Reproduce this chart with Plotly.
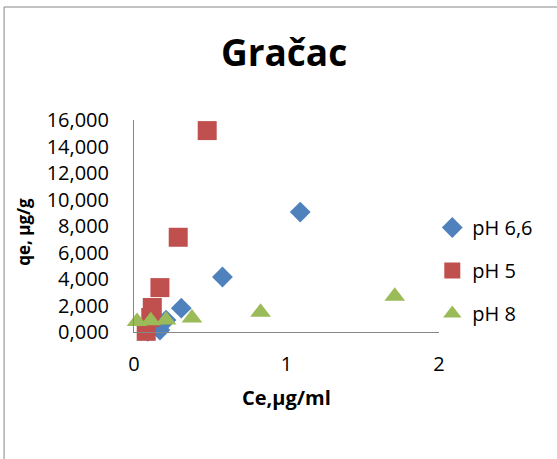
import plotly.graph_objects as go

# Data
ph66_x = [0.09, 0.17, 0.21, 0.31, 0.58, 1.09]
ph66_y = [50, 150, 900, 1800, 4150, 9050]
ph5_x = [0.08, 0.11, 0.12, 0.17, 0.29, 0.48]
ph5_y = [50, 1100, 1850, 3350, 7150, 15200]
ph8_x = [0.02, 0.11, 0.21, 0.38, 0.83, 1.71]
ph8_y = [800, 850, 900, 1050, 1500, 2700]

y_tick_vals = [0, 2000, 4000, 6000, 8000, 10000, 12000, 14000, 16000]
y_tick_text = ["0,000", "2,000", "4,000", "6,000", "8,000", "10,000", "12,000", "14,000", "16,000"]
x_tick_vals = [0, 1, 2]
x_tick_text = ["0", "1", "2"]

FONT = "Open Sans"

fig = go.Figure()
fig.add_trace(go.Scatter(x=ph66_x, y=ph66_y, mode="markers", name="pH 6,6", legendgroup="a",
                         marker=dict(symbol="diamond", size=16, color="#4F81BD"), cliponaxis=False))
fig.add_trace(go.Scatter(x=ph5_x, y=ph5_y, mode="markers", name="pH 5", legendgroup="b",
                         marker=dict(symbol="square", size=19, color="#C0504D"), cliponaxis=False))
fig.add_trace(go.Scatter(x=ph8_x, y=ph8_y, mode="markers", name="pH 8", legendgroup="c",
                         marker=dict(symbol="triangle-up", size=18, color="#9BBB59"), cliponaxis=False))

fig.update_layout(
    width=557, height=459,
    margin=dict(l=134, r=118, t=120, b=127),
    paper_bgcolor="white", plot_bgcolor="white",
    font=dict(family=FONT, color="#000000"),
    showlegend=True,
    legend=dict(x=0.978, y=0.585, xanchor="left", yanchor="top",
                font=dict(family=FONT, size=20, color="#000000"),
                tracegroupgap=14, bgcolor="rgba(0,0,0,0)"),
    xaxis=dict(range=[0, 2], tickvals=x_tick_vals, ticktext=x_tick_text,
               showgrid=False, zeroline=False, showline=True, linecolor="#868686", linewidth=1,
               ticks="", ticklabelstandoff=14, tickfont=dict(family=FONT, size=20)),
    yaxis=dict(range=[0, 16000], tickvals=y_tick_vals, ticktext=y_tick_text,
               showgrid=False, zeroline=False, showline=True, linecolor="#868686", linewidth=1,
               ticks="", ticklabelstandoff=20, tickfont=dict(family=FONT, size=20)),
    title=dict(text="<b>Gračac</b>", x=0.51, xanchor="center", y=0.885, yanchor="middle",
               font=dict(family=FONT, size=37, color="#000000")),
)

fig.add_annotation(text="<b>Ce,µg/ml</b>", xref="paper", yref="paper", x=0.5, y=-0.31,
                   xanchor="center", yanchor="middle", showarrow=False,
                   font=dict(family=FONT, size=20, color="#000000"))
fig.add_annotation(text="<b>qe, µg/g</b>", xref="paper", yref="paper", x=-0.361, y=0.472,
                   xanchor="center", yanchor="middle", showarrow=False, textangle=-90,
                   font=dict(family=FONT, size=17, color="#000000"))

# outer chart border (extends past the visible window on right and bottom)
fig.add_shape(type="rect", xref="paper", yref="paper", x0=-0.426, y0=-1.0, x1=2.0, y1=1.533,
              line=dict(color="#868686", width=1), fillcolor="rgba(0,0,0,0)", layer="below")

fig.write_html("out.html", config={"displayModeBar": False},
               post_script="document.body.style.margin='0px';")
